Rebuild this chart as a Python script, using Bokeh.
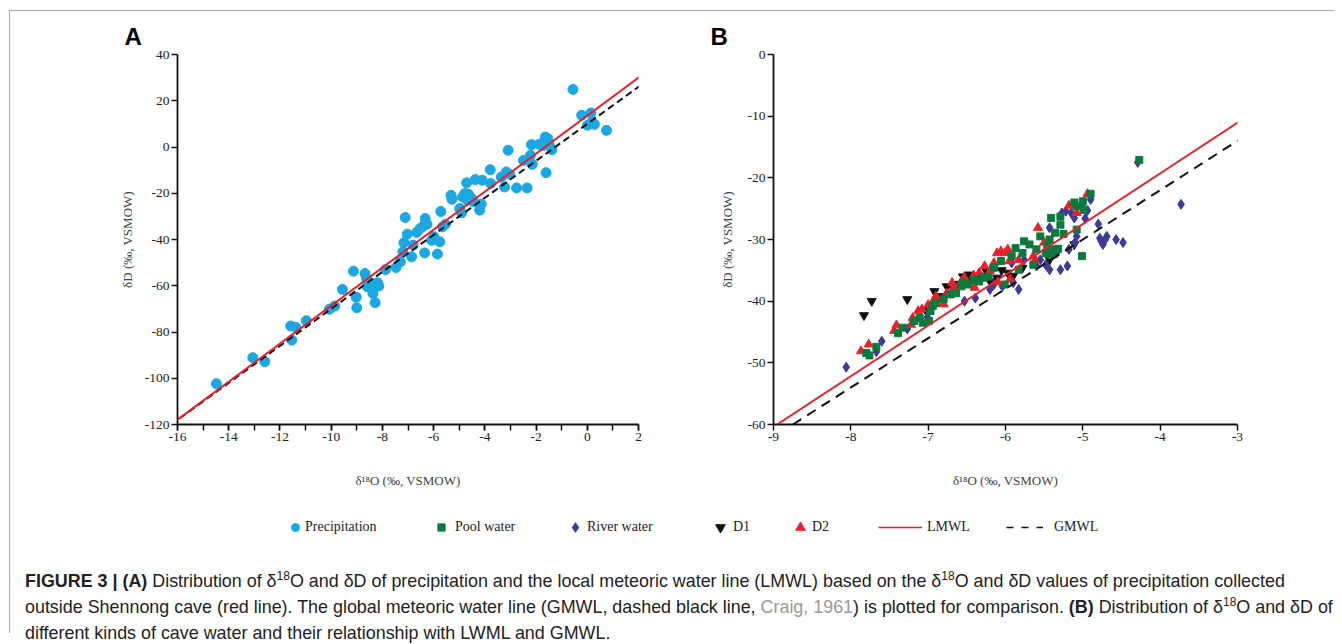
from bokeh.plotting import figure
from bokeh.models import Range1d, FixedTicker, Slope, Legend, LegendItem, Div, PrintfTickFormatter
from bokeh.layouts import row, column
from bokeh.embed import file_html
from bokeh.resources import INLINE

# ---------------- data ----------------
# Panel A: precipitation
precip_d18o = [-14.48, -13.06, -12.59, -11.58, -11.38, -11.54, -10.97, -10.07, -9.86, -9.56,
               -9.13, -9.02, -9.00, -8.68, -8.62, -8.59, -8.41, -8.37, -8.28, -8.19,
               -8.14, -7.88, -7.47, -7.30, -7.20, -7.16, -7.11, -7.03, -6.86, -6.80,
               -6.66, -6.53, -6.39, -6.35, -6.33, -6.26, -6.08, -5.99, -5.85, -5.76,
               -5.72, -5.65, -5.54, -5.32, -5.28, -4.98, -4.91, -4.87, -4.78, -4.71,
               -4.68, -4.64, -4.51, -4.44, -4.37, -4.20, -4.14, -4.10, -3.79, -3.77,
               -3.36, -3.23, -3.16, -3.09, -3.03, -2.76, -2.49, -2.35, -2.22, -2.18,
               -2.15, -1.88, -1.72, -1.64, -1.61, -1.54, -1.48, -1.38, -0.56, -0.22,
               0.01, 0.14, 0.17, 0.28, 0.75]
precip_dD = [-102.4, -91.1, -92.8, -77.4, -78.0, -83.5, -75.1, -70.2, -68.8, -61.6,
             -53.7, -65.0, -69.5, -54.7, -56.8, -60.4, -59.0, -63.3, -67.3, -58.7,
             -60.1, -53.0, -52.1, -49.6, -45.3, -41.4, -30.5, -37.7, -47.5, -42.4,
             -37.0, -35.3, -34.1, -45.8, -30.9, -33.4, -40.3, -38.8, -46.3, -41.0,
             -27.9, -34.5, -33.4, -20.9, -22.6, -26.6, -28.5, -21.6, -20.1, -15.5,
             -23.0, -20.4, -22.3, -23.7, -14.1, -27.3, -24.7, -14.4, -9.8, -15.8,
             -13.0, -17.3, -10.8, -1.4, -11.8, -17.7, -5.8, -17.7, -3.6, 1.0,
             -7.5, 1.2, 0.7, 4.3, -11.1, 3.6, 0.7, -1.2, 24.9, 13.7,
             9.4, 14.7, 10.8, 9.8, 7.2]

# Panel B: cave waters
pool_d18o = [-7.80, -7.76, -7.67, -7.39, -7.33, -7.18, -7.11, -7.07, -6.99, -6.97,
             -6.94, -6.90, -6.80, -6.71, -6.64, -6.57, -6.55, -6.48, -6.41, -6.34,
             -6.29, -6.22, -6.15, -6.06, -6.01, -5.92, -5.87, -5.83, -5.78, -5.76,
             -5.69, -5.64, -5.60, -5.55, -5.48, -5.46, -5.43, -5.41, -5.36, -5.32,
             -5.29, -5.29, -5.25, -5.11, -5.08, -5.08, -5.00, -4.99, -5.01, -4.90,
             -4.27, -5.36, -5.41]
pool_dD = [-48.4, -48.8, -47.4, -45.2, -44.3, -43.2, -42.7, -43.5, -43.2, -41.6,
           -40.8, -40.3, -39.7, -38.9, -38.7, -37.6, -37.0, -37.3, -36.5, -36.8,
           -36.2, -36.0, -34.6, -33.5, -37.3, -32.7, -31.4, -34.9, -32.2, -30.3,
           -30.8, -34.1, -31.6, -29.5, -32.2, -31.1, -30.0, -26.5, -28.9, -31.5,
           -26.3, -27.6, -29.1, -24.0, -24.6, -28.4, -23.8, -25.2, -32.7, -22.6,
           -17.1, -31.6, -32.5]

river_d18o = [-8.06, -7.67, -7.60, -7.27, -7.01, -6.53, -6.39, -6.15, -6.04, -5.90,
              -5.83, -5.76, -5.60, -5.48, -5.43, -5.43, -5.29, -5.27, -5.22, -5.20,
              -5.18, -5.15, -5.11, -5.08, -5.01, -4.97, -4.94, -4.90, -4.80, -4.78,
              -4.76, -4.74, -4.71, -4.69, -4.57, -4.48, -4.29, -3.73, -5.55, -5.34,
              -5.11, -5.92, -6.20]
river_dD = [-50.7, -48.2, -46.5, -44.5, -42.6, -40.0, -39.5, -37.3, -37.6, -37.0,
            -38.1, -33.3, -34.3, -34.1, -28.1, -34.9, -34.9, -25.7, -25.4, -34.3,
            -31.6, -25.7, -26.5, -29.5, -24.4, -26.6, -25.3, -23.5, -27.5, -29.8,
            -30.3, -30.8, -30.0, -29.5, -30.0, -30.5, -17.5, -24.3, -33.3, -32.2,
            -30.6, -33.8, -38.1]

d1_d18o = [-7.83, -7.73, -7.27, -7.04, -6.92, -6.85, -6.76, -6.67, -6.60, -6.55,
           -6.48, -6.45, -6.39, -6.32, -6.25, -6.20, -6.11, -6.05, -5.97, -5.90,
           -5.78, -5.43, -5.36, -5.11]
d1_dD = [-42.3, -40.0, -39.7, -41.3, -38.4, -39.2, -37.6, -38.1, -37.2, -36.0,
         -35.7, -36.5, -37.0, -36.0, -35.1, -36.8, -36.2, -35.0, -35.4, -35.9,
         -34.6, -33.3, -32.2, -30.8]

d2_d18o = [-7.87, -7.77, -7.44, -7.41, -7.22, -7.20, -7.13, -7.08, -7.00, -6.92,
           -6.90, -6.80, -6.76, -6.69, -6.67, -6.57, -6.53, -6.48, -6.41, -6.40,
           -6.34, -6.29, -6.27, -6.24, -6.20, -6.15, -6.11, -6.10, -6.06, -6.01,
           -5.97, -5.95, -5.94, -5.83, -5.64, -5.62, -5.58, -5.50, -5.18, -5.08,
           -4.94]
d2_dD = [-48.1, -47.0, -44.8, -43.9, -43.8, -42.7, -41.6, -41.3, -40.6, -39.7,
         -39.2, -40.5, -38.7, -37.0, -37.8, -36.8, -36.2, -37.3, -35.8, -37.8,
         -35.4, -36.2, -34.3, -36.0, -35.1, -33.8, -32.2, -36.9, -31.9, -32.2,
         -31.6, -33.5, -36.4, -33.3, -32.7, -33.3, -28.1, -30.5, -24.5, -25.7,
         -22.6]

# meteoric water lines: dD = slope * d18O + intercept
lmwl_slope, lmwl_intercept = 8.22, 13.6
gmwl_slope, gmwl_intercept = 8.0, 10.0

a_xticks = [-16, -14, -12, -10, -8, -6, -4, -2, 0, 2]
a_xminor = list(range(-16, 3))
a_yticks = [-120, -100, -80, -60, -40, -20, 0, 20, 40]
b_xticks = [-9, -8, -7, -6, -5, -4, -3]
b_yticks = [-60, -50, -40, -30, -20, -10, 0]

X_LABEL = "δ\u00b9\u2078O (‰, VSMOW)"
Y_LABEL = "δD (‰, VSMOW)"

C_PRECIP = "#1ba8e2"
C_POOL = "#0b7a3c"
C_RIVER = "#3b3c95"
C_D1 = "#111111"
C_D2 = "#e8202b"
C_LMWL = "#e8202b"
C_GMWL = "#111111"

SERIF = "Liberation Serif"


def style(p, xticks, yticks, xminor, ylabel_standoff):
    p.xaxis.ticker = FixedTicker(ticks=xticks, minor_ticks=xminor)
    p.yaxis.ticker = FixedTicker(ticks=yticks, minor_ticks=[])
    for ax in p.axis:
        ax.formatter = PrintfTickFormatter(format="%d")
        ax.axis_line_width = 1.8
        ax.axis_line_color = "#111111"
        ax.major_tick_in = 0
        ax.major_tick_out = 6
        ax.minor_tick_in = 0
        ax.minor_tick_out = 6
        ax.major_tick_line_width = 1.5
        ax.minor_tick_line_width = 1.5
        ax.major_tick_line_color = "#111111"
        ax.minor_tick_line_color = "#111111"
        ax.major_label_text_font = SERIF
        ax.major_label_text_font_size = "13.5px"
        ax.major_label_text_color = "#222222"
        ax.major_label_standoff = 2
        ax.axis_label_text_font = SERIF
        ax.axis_label_text_font_size = "13px"
        ax.axis_label_text_font_style = "normal"
        ax.axis_label_text_color = "#444444"
    p.xaxis.axis_label = X_LABEL
    p.yaxis.axis_label = Y_LABEL
    p.xaxis.axis_label_standoff = 29
    p.yaxis.axis_label_standoff = ylabel_standoff
    p.grid.visible = False
    p.outline_line_color = None
    p.title.text_font = "Liberation Sans"
    p.title.text_font_size = "24px"
    p.title.text_font_style = "bold"
    p.title.align = "left"
    p.title.text_color = "#000000"


# ---------------- panel A ----------------
pA = figure(width=680, height=483, x_range=Range1d(-16, 2), y_range=Range1d(-120, 40),
            title="A", toolbar_location=None, output_backend="svg",
            min_border_left=167, min_border_right=52, min_border_top=43, min_border_bottom=70)
style(pA, a_xticks, a_yticks, a_xminor, 7)
pA.title.offset = -53
pA.scatter(precip_d18o, precip_dD, marker="circle", size=10, fill_color=C_PRECIP, line_color=C_PRECIP)
pA.add_layout(Slope(gradient=gmwl_slope, y_intercept=gmwl_intercept, line_color=C_GMWL,
                    line_width=2, line_dash="7 4"))
pA.add_layout(Slope(gradient=lmwl_slope, y_intercept=lmwl_intercept, line_color=C_LMWL, line_width=2))

# ---------------- panel B ----------------
pB = figure(width=640, height=483, x_range=Range1d(-9, -3), y_range=Range1d(-60, 0),
            title="B", toolbar_location=None, output_backend="svg",
            min_border_left=83, min_border_right=93, min_border_top=43, min_border_bottom=70)
style(pB, b_xticks, b_yticks, [], 10)
pB.title.offset = -63
pB.scatter(d1_d18o, d1_dD, marker="inverted_triangle", size=9, fill_color=C_D1, line_color=C_D1)
pB.scatter(river_d18o, river_dD, marker="diamond", size=10, fill_color=C_RIVER, line_color=C_RIVER)
pB.scatter(d2_d18o, d2_dD, marker="triangle", size=9, fill_color=C_D2, line_color=C_D2)
pB.scatter(pool_d18o, pool_dD, marker="square", size=7, fill_color=C_POOL, line_color=C_POOL)
pB.add_layout(Slope(gradient=gmwl_slope, y_intercept=gmwl_intercept, line_color=C_GMWL,
                    line_width=2, line_dash="10 7"))
pB.add_layout(Slope(gradient=lmwl_slope, y_intercept=lmwl_intercept, line_color=C_LMWL, line_width=2))

# ---------------- legend strip ----------------
# (renderers hold one real point each, outside this strip's view, so only the legend shows)
lf = figure(width=1320, height=54, x_range=Range1d(0, 1), y_range=Range1d(0, 1),
            toolbar_location=None, output_backend="svg", min_border=0)
lf.axis.visible = False
lf.grid.visible = False
lf.outline_line_color = None

r_pre = lf.scatter(precip_d18o[:1], precip_dD[:1], marker="circle", size=8,
                   fill_color=C_PRECIP, line_color=C_PRECIP)
r_pool = lf.scatter(pool_d18o[:1], pool_dD[:1], marker="square", size=7,
                    fill_color=C_POOL, line_color=C_POOL)
r_riv = lf.scatter(river_d18o[:1], river_dD[:1], marker="diamond", size=11,
                   fill_color=C_RIVER, line_color=C_RIVER)
r_d1 = lf.scatter(d1_d18o[:1], d1_dD[:1], marker="inverted_triangle", size=9,
                  fill_color=C_D1, line_color=C_D1)
r_d2 = lf.scatter(d2_d18o[:1], d2_dD[:1], marker="triangle", size=9,
                  fill_color=C_D2, line_color=C_D2)
r_l = lf.line(a_xticks[:2], a_yticks[:2], line_color=C_LMWL, line_width=1.5)
r_g = lf.line(a_xticks[:2], a_yticks[:2], line_color=C_GMWL, line_width=1.5, line_dash="7 8")

# (label, renderer, left px, glyph width, glyph height, label standoff)
legend_specs = [
    ("Precipitation", r_pre, 275, 20, 20, 0),
    ("Pool water", r_pool, 422, 18, 20, 5),
    ("River water", r_riv, 553, 24, 24, 0),
    ("D1", r_d1, 698, 24, 24, 1),
    ("D2", r_d2, 778, 24, 24, 0),
    ("LMWL", r_l, 868, 44, 20, 5),
    ("GMWL", r_g, 996, 37, 20, 11),
]
for label, rend, lx, gw, gh, so in legend_specs:
    lg = Legend(items=[LegendItem(label=label, renderers=[rend])], location=(lx, 21 - gh / 2),
                orientation="horizontal", glyph_width=gw, glyph_height=gh, label_height=20,
                label_standoff=so, padding=0, margin=0, spacing=0,
                border_line_color=None, background_fill_alpha=0,
                label_text_font=SERIF, label_text_font_size="14px", label_text_color="#222222")
    lf.add_layout(lg)

# ---------------- caption ----------------
SUP = '<sup style="font-size:12px; line-height:0">18</sup>'
caption_html = (
    '<div style="padding:20px 0 0 15px; font-family:\'Liberation Sans\', Arial, sans-serif; '
    'font-size:17.9px; line-height:26px; color:#222; white-space:nowrap;">'
    '<b>FIGURE 3 | (A)</b> Distribution of δ' + SUP + 'O and δD of precipitation '
    'and the local meteoric water line (LMWL) based on the δ' + SUP + 'O and δD values '
    'of precipitation collected<br>'
    'outside Shennong cave (red line). The global meteoric water line (GMWL, dashed black line, '
    '<span style="color:#9a9a9a">Craig, 1961</span>) is plotted for comparison. <b>(B)</b> Distribution of '
    'δ' + SUP + 'O and δD of<br>'
    'different kinds of cave water and their relationship with LWML and GMWL.'
    '</div>'
)
cap = Div(text=caption_html, width=1320, height=86, margin=0)

hline = Div(text="", width=1325, height=1, margin=(10, 0, 0, 9), styles={"background-color": "#aaaaaa"})
vline = Div(text="", width=1, height=622, margin=(0, 0, 0, 9), styles={"background-color": "#aaaaaa"})

main = column(row(pA, pB), lf, cap)
layout = column(hline, row(vline, main))

open("out.html", "w").write(file_html(layout, INLINE))
